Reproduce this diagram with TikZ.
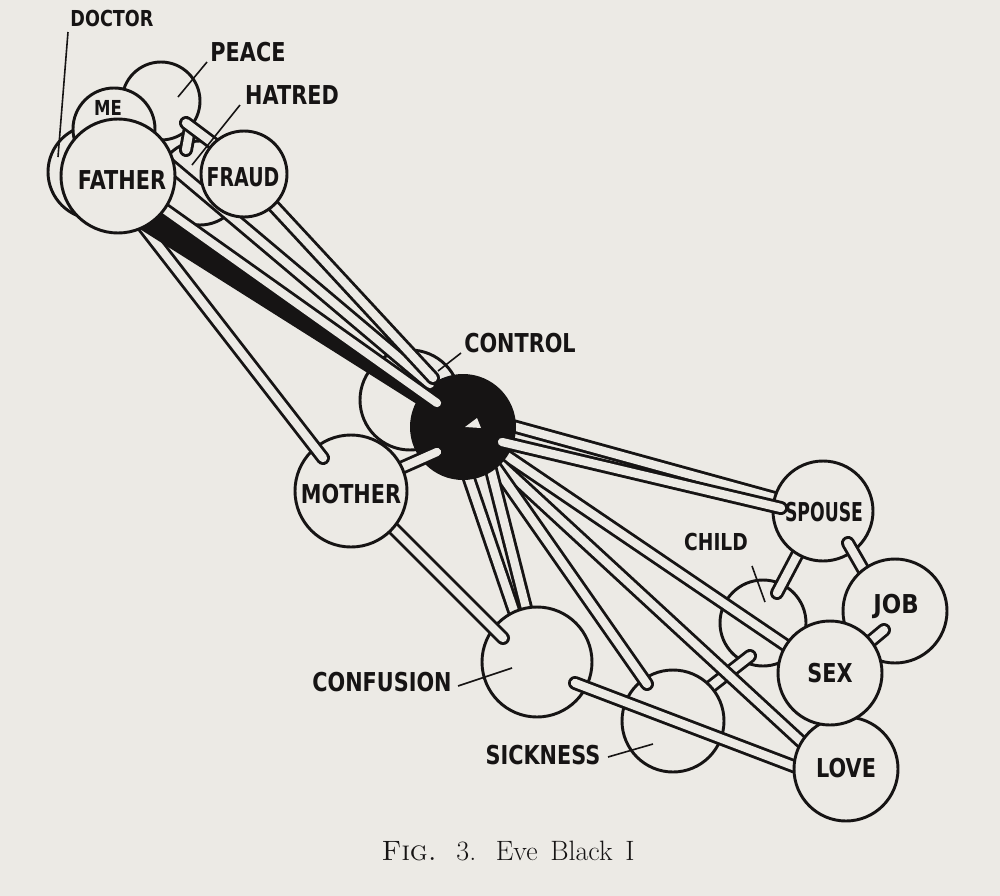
\documentclass[tikz,border=0pt]{standalone}
\usepackage{fontspec}
\usepackage{graphicx}
\newfontfamily\labfont{DejaVu Sans}[FakeStretch=0.8]
\usetikzlibrary{calc}
\definecolor{paper}{RGB}{236,234,229}
\definecolor{ink}{RGB}{22,20,20}
\newcommand{\tuberod}[2]{\draw[rodout] (#1) -- (#2); \draw[rodin] (#1) -- (#2);}
\tikzset{
  ball/.style={circle, draw=ink, fill=paper, line width=2.2pt, inner sep=0pt, minimum size=#1*1.5pt},
  rodout/.style={draw=ink, line width=10.5pt, line cap=round},
  rodin/.style={draw=paper, line width=6.2pt, line cap=round},
  lab/.style={font=\labfont\bfseries\fontsize{19.5}{20}\selectfont, text=ink, inner sep=0pt},
  smalllab/.style={font=\labfont\bfseries\fontsize{16.5}{17}\selectfont, text=ink, inner sep=0pt},
  leader/.style={draw=ink, line width=1.2pt},
}
\begin{document}
\begin{tikzpicture}[x=0.75pt, y=-0.75pt]
\fill[paper] (0,0) rectangle (1000,896);
\useasboundingbox (0,0) rectangle (1000,896);

% rod end points
\coordinate (pb1) at (190,128); \coordinate (pb2) at (186,150);
\coordinate (pa1) at (186,123); \coordinate (pa2) at (222,150);
\coordinate (kc1) at (700,695); \coordinate (kc2) at (750,656);
\coordinate (sc1) at (805,540); \coordinate (sc2) at (777,593);
\coordinate (sp1) at (480,417); \coordinate (sp2) at (800,505);
\coordinate (hx1) at (495,448); \coordinate (hx2) at (800,655);
\coordinate (hl1) at (490,455); \coordinate (hl2) at (808,748);
\coordinate (hs1) at (492,462); \coordinate (hs2) at (647,684);
\coordinate (hc1) at (490,466); \coordinate (hc2) at (527,612);
\coordinate (hd1) at (466,470); \coordinate (hd2) at (515,614);
\coordinate (cl1) at (575,683); \coordinate (cl2) at (830,780);
\coordinate (mc1) at (380,515); \coordinate (mc2) at (503,638);
\coordinate (sq1) at (502,442); \coordinate (sq2) at (781,508);
\coordinate (sj1) at (848,543); \coordinate (sj2) at (875,590);
\coordinate (xj1) at (860,650); \coordinate (xj2) at (884,630);
\coordinate (mh1) at (385,475); \coordinate (mh2) at (437,452);
\coordinate (fm1) at (140,222); \coordinate (fm2) at (323,458);
\coordinate (fa1) at (150,148); \coordinate (fa2) at (430,384);
\coordinate (fb1) at (140,192); \coordinate (fb2) at (437,403);
\coordinate (fr1) at (244,174); \coordinate (fr2) at (433,378);

% back spheres
\node[ball=50] (control) at (410,400) {};
\node[ball=47] (doctor) at (95,172) {};
\node[ball=42] (hatred) at (200,183) {};
\node[ball=39] (peace) at (161,101) {};
\node[ball=41] (me) at (114,129) {};
\node[lab, font=\labfont\bfseries\fontsize{15.5}{16}\selectfont] (melab) at (108,108) {ME};
\tuberod{pb1}{pb2}
\tuberod{pa1}{pa2}

\node[ball=43] (child) at (763,623) {};
\tuberod{kc1}{kc2}
\node[ball=51] (sickness) at (673,721) {};

% fan of rods from the dark sphere
\tuberod{sc1}{sc2}
\tuberod{sp1}{sp2}
\tuberod{hx1}{hx2}
\tuberod{hl1}{hl2}
\tuberod{hs1}{hs2}
\tuberod{hc1}{hc2}
\tuberod{hd1}{hd2}

\node[circle, fill=ink, inner sep=0pt, minimum size=53*1.5pt] (hub) at (463,427) {};
\fill[paper] (465,427) -- (477,418) -- (481,428) -- cycle;

\node[ball=55] (confusion) at (537,662) {};
\tuberod{cl1}{cl2}
\tuberod{mc1}{mc2}

\node[ball=50] (spouse) at (823,511) {};
\node[lab] (spouselab) at (824,512) {\scalebox{0.83}[1]{SPOUSE}};
\tuberod{sq1}{sq2}
\tuberod{sj1}{sj2}
\node[ball=52] (job) at (895,611) {};
\node[lab] (joblab) at (896,606) {\scalebox{1.1}[1]{JOB}};
\tuberod{xj1}{xj2}
\node[ball=52] (love) at (846,769) {};
\node[lab] (lovelab) at (846,768) {LOVE};
\node[ball=52] (sex) at (830,673) {};
\node[lab] (sexlab) at (830,673) {SEX};

\tuberod{mh1}{mh2}
\node[ball=56] (mother) at (351,491) {};
\node[lab] (motherlab) at (351,494) {MOTHER};
\tuberod{fm1}{fm2}
\fill[ink] (152,205) -- (440,397) -- (431,413) -- (135,226) -- cycle;
\tuberod{fa1}{fa2}
\tuberod{fb1}{fb2}
\tuberod{fr1}{fr2}
\node[ball=43] (fraud) at (244,174) {};
\node[lab] (fraudlab) at (243,177) {\scalebox{0.91}[1]{FRAUD}};
\node[ball=57] (father) at (118,176) {};
\node[lab] (fatherlab) at (122,180) {FATHER};

% outside labels and leaders
\node[smalllab] (doctorlab) at (112,18) {DOCTOR};
\coordinate (ld1) at (68,32); \coordinate (ld2) at (58,157);
\draw[leader] (ld1) -- (ld2);
\node[lab] (peacelab) at (248,52) {PEACE};
\coordinate (lp1) at (207,62); \coordinate (lp2) at (178,97);
\draw[leader] (lp1) -- (lp2);
\node[lab] (hatredlab) at (292,95) {HATRED};
\coordinate (lh1) at (240,105); \coordinate (lh2) at (192,165);
\draw[leader] (lh1) -- (lh2);
\node[lab] (controllab) at (520,343) {CONTROL};
\coordinate (lc1) at (461,353); \coordinate (lc2) at (438,371);
\draw[leader] (lc1) -- (lc2);
\node[smalllab, font=\labfont\bfseries\fontsize{17.5}{18}\selectfont] (childlab) at (716,542) {CHILD};
\coordinate (lk1) at (752,566); \coordinate (lk2) at (765,602);
\draw[leader] (lk1) -- (lk2);
\node[lab] (confusionlab) at (382,682) {CONFUSION};
\coordinate (lf1) at (458,686); \coordinate (lf2) at (512,668);
\draw[leader] (lf1) -- (lf2);
\node[lab] (sicknesslab) at (543,755) {SICKNESS};
\coordinate (ls1) at (608,757); \coordinate (ls2) at (653,744);
\draw[leader] (ls1) -- (ls2);

\node[text=ink, inner sep=0pt] (caption) at (508,851) {\fontsize{21}{24}\selectfont\textsc{Fig.}\hspace{0.7em}\oldstylenums{3}.\hspace{0.7em}Eve\hspace{0.45em}Black\hspace{0.45em}I};
\end{tikzpicture}
\end{document}
